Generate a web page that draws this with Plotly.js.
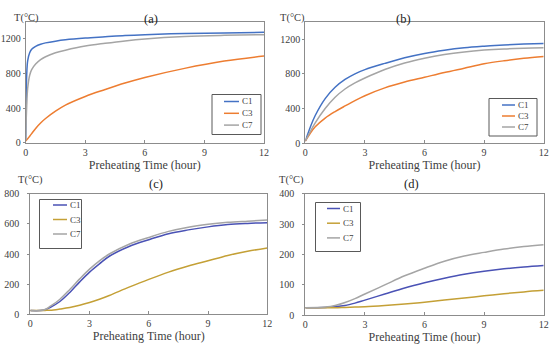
<!DOCTYPE html>
<html>
<head>
<meta charset="utf-8">
<script src="https://cdn.plot.ly/plotly-3.0.1.min.js"></script>
<style>html,body{margin:0;padding:0;background:#fff;}#chart{width:550px;height:344px;}</style>
</head>
<body>
<div id="chart"></div>
<script>
// Panel (a)
var tA = [0,0.03,0.05,0.1,0.2,0.3,0.5,0.75,1,1.5,2,3,4,5,6,8,10,12];
var a_C1 = [25,560,780,950,1040,1080,1115,1140,1155,1175,1190,1210,1225,1240,1250,1263,1270,1277];
var a_C3 = [20,28,33,45,75,105,165,228,280,365,435,535,615,690,755,860,945,1003];
var a_C7 = [25,300,420,630,780,845,910,962,995,1040,1070,1118,1150,1178,1200,1228,1242,1250];
// Panel (b)
var tB = [0,0.25,0.5,1,1.5,2,2.5,3,4,5,6,7,8,9,10,11,12];
var b_C1 = [25,185,320,515,645,735,800,848,920,985,1035,1072,1100,1118,1132,1142,1150];
var b_C3 = [25,115,190,290,365,430,492,548,638,705,760,815,865,915,950,978,1000];
var b_C7 = [25,135,235,400,530,625,695,752,850,925,980,1022,1052,1073,1087,1095,1100];
// Panel (c)
var tC = [0,0.5,0.75,1,1.5,2,2.5,3,3.5,4,5,6,7,8,9,10,11,12];
var c_C1 = [25,25,30,45,85,145,215,280,335,385,450,495,535,560,580,595,603,608];
var c_C3 = [25,25,26,27,35,45,60,78,100,125,180,232,280,320,355,390,418,440];
var c_C7 = [25,25,32,52,100,165,235,300,355,400,465,510,550,578,597,610,618,625];
// Panel (d)
var tD = [0,1,1.5,2,2.5,3,4,5,6,7,8,9,10,11,12];
var d_C1 = [25,26,28,32,40,50,70,90,107,122,135,145,153,159,164];
var d_C3 = [25,25,25,26,27,28,32,37,43,50,57,64,71,77,82];
var d_C7 = [25,27,32,42,55,70,100,130,155,178,195,207,218,226,232];

var names = ['C1','C3','C7'];
var colsTop = ['#4472C4','#ED7D31','#A5A5A5'];
var colsBot = ['#4A52B5','#C4A036','#A5A5A5'];
var xTicks = [0,3,6,9,12];

var FONT = '"Liberation Serif", "Times New Roman", serif';
var W=550, H=344;
var traces = [];
var shapes = [];
var annotations = [];

// legend box geometry in pixels: [left, top, right, bottom, rowY0, rowStep, lineX0, lineX1]
function addPanel(t, ys, cols, xa, ya, box){
  for (var i=0;i<3;i++){
    traces.push({x:t, y:ys[i], name:names[i], type:'scatter', mode:'lines',
      line:{color:cols[i], width:1.5, shape:'spline', smoothing:1},
      xaxis:xa, yaxis:ya, showlegend:false});
  }
  shapes.push({type:'rect', xref:'paper', yref:'paper', x0:box[0]/W, x1:box[2]/W, y0:1-box[1]/H, y1:1-box[3]/H,
    line:{color:'#595959', width:1}, fillcolor:'#fff', layer:'above'});
  for (var j=0;j<3;j++){
    var yy = 1-(box[4]+j*box[5])/H;
    shapes.push({type:'line', xref:'paper', yref:'paper', x0:box[6]/W, x1:box[7]/W, y0:yy, y1:yy,
      line:{color:cols[j], width:1.5}, layer:'above'});
    annotations.push({text:names[j], x:(box[7]+1)/W, y:yy, xref:'paper', yref:'paper', xanchor:'left', yanchor:'middle',
      showarrow:false, font:{family:FONT,size:9,color:'#404040'}});
  }
}
addPanel(tA,[a_C1,a_C3,a_C7],colsTop,'x','y',[212,94.5,261,134.5,101.5,11.8,224,239]);
addPanel(tB,[b_C1,b_C3,b_C7],colsTop,'x2','y2',[489,98.5,537,136,105,11,502,515]);
addPanel(tC,[c_C1,c_C3,c_C7],colsBot,'x3','y3',[39.5,199.5,81.5,248.5,205,14.5,53,67]);
addPanel(tD,[d_C1,d_C3,d_C7],colsBot,'x4','y4',[315.5,202.5,360.5,251.5,208.5,14.7,327,340]);

function xax(dom, anchor){
  return {domain:dom, anchor:anchor, range:[0,12], tickvals:xTicks, ticktext:xTicks.map(String),
    showgrid:false, zeroline:false, showline:true, mirror:true, linecolor:'#8c8c8c', linewidth:1,
    ticks:'inside', ticklen:3, tickcolor:'#8c8c8c',
    tickfont:{family:FONT,size:10,color:'#404040'},
    title:{text:'Preheating Time (hour)', font:{family:FONT,size:12,color:'#404040'}, standoff:2}};
}
function yax(dom, anchor, rng, tv, standoff){
  return {domain:dom, anchor:anchor, range:rng, tickvals:tv, ticktext:tv.map(String),
    showgrid:false, zeroline:false, showline:true, mirror:true, linecolor:'#8c8c8c', linewidth:1,
    ticks:'outside', ticklen:2, tickcolor:'#8c8c8c', ticklabelstandoff:standoff,
    tickfont:{family:FONT,size:10,color:'#404040'}};
}
var titles = [['(a)',142,10],['(b)',413,10],['(c)',147,184],['(d)',421,184]];
titles.forEach(function(p){
  annotations.push({text:p[0], x:p[1]/W, y:1-p[2]/H, xref:'paper', yref:'paper', showarrow:false,
    font:{family:FONT,size:12.5,color:'#222'}});
});
var ylabs = [[12,10],[292,10],[16,180],[291,180]];
ylabs.forEach(function(p){
  annotations.push({text:'T(°C)', x:p[0]/W, y:1-p[1]/H, xref:'paper', yref:'paper', showarrow:false,
    font:{family:FONT,size:10.5,color:'#404040'}});
});

var layout = {
  width:W, height:H, margin:{l:0,r:0,t:0,b:0}, paper_bgcolor:'#fff', plot_bgcolor:'#fff',
  showlegend:false,
  xaxis: xax([25.7/W,264/W],'y'),
  yaxis: yax([1-142.7/H,1-21.7/H],'x',[0,1400],[0,400,800,1200],0),
  xaxis2: xax([305.3/W,543.7/W],'y2'),
  yaxis2: yax([1-143.3/H,1-21.7/H],'x2',[0,1400],[0,400,800,1200],0),
  xaxis3: xax([30.3/W,267.3/W],'y3'),
  yaxis3: yax([1-314.3/H,1-193.7/H],'x3',[0,800],[0,200,400,600,800],6),
  xaxis4: xax([305.3/W,543.7/W],'y4'),
  yaxis4: yax([1-315.3/H,1-193.7/H],'x4',[0,400],[0,100,200,300,400],6),
  shapes: shapes,
  annotations: annotations
};
Plotly.newPlot('chart', traces, layout, {staticPlot:true, displayModeBar:false});
</script>
</body>
</html>
